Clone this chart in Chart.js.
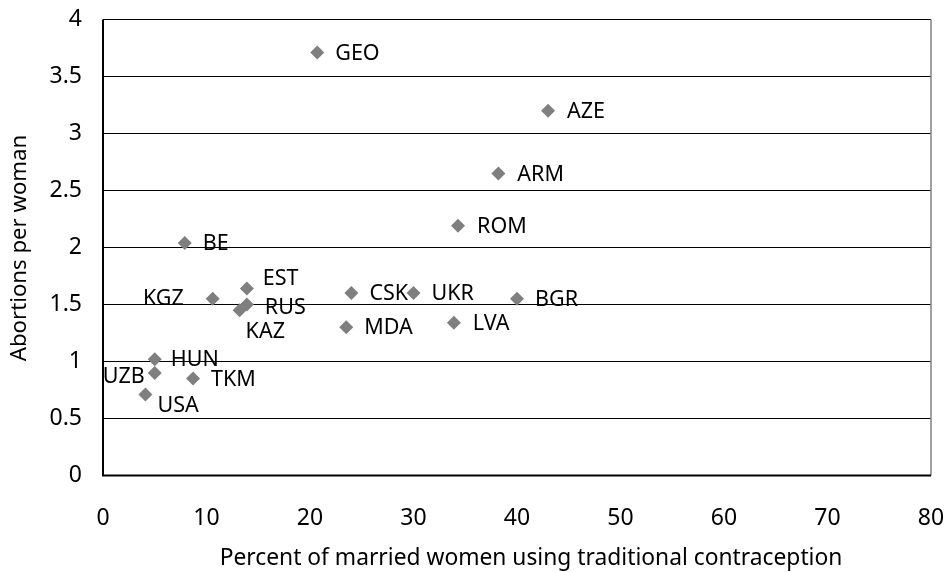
<!DOCTYPE html>
<html><head><meta charset="utf-8">
<script src="https://cdn.jsdelivr.net/npm/chart.js@4.4.0/dist/chart.umd.min.js"></script>
<style>html,body{margin:0;padding:0;background:#fff;}canvas{display:block;}</style>
</head><body>
<canvas id="c" width="948" height="572"></canvas>
<script>
const countries = ["GEO","AZE","ARM","ROM","BE","EST","KGZ","RUS","KAZ","HUN","UZB","TKM","USA","CSK","UKR","BGR","MDA","LVA"];
const traditionalPct = [20.7,43.0,38.2,34.3,7.9,13.9,10.6,13.9,13.2,5.0,5.0,8.7,4.1,24.0,30.0,40.0,23.5,33.9];
const abortionsPerWoman = [3.71,3.20,2.65,2.19,2.04,1.64,1.55,1.50,1.45,1.02,0.90,0.85,0.71,1.60,1.60,1.55,1.30,1.34];
const xTicks = [0,10,20,30,40,50,60,70,80];
const yTicks = [0,0.5,1,1.5,2,2.5,3,3.5,4];

// label placement (pixel offsets from the marker), kept apart from the data
const labelPlacement = {
  GEO:[18,1,'left'], AZE:[19,1,'left'], ARM:[19,1,'left'], ROM:[19,1,'left'], BE:[18,1,'left'],
  EST:[16,-10,'left'], KGZ:[-29,0,'right'], RUS:[18,3,'left'], KAZ:[6,22,'left'],
  HUN:[16,1,'left'], UZB:[-10,4,'right'], TKM:[18,1,'left'], USA:[12,11,'left'],
  CSK:[18,1,'left'], UKR:[18,1,'left'], BGR:[18,1,'left'], MDA:[18,1,'left'], LVA:[19,1,'left']
};

const FONT = "'Noto Sans', 'Open Sans', sans-serif";

const labelsPlugin = {
  id: 'pointLabels',
  afterDatasetsDraw(chart) {
    const ctx = chart.ctx;
    const meta = chart.getDatasetMeta(0);
    ctx.save();
    ctx.font = "21.5px " + FONT;
    ctx.fillStyle = '#000';
    ctx.textBaseline = 'middle';
    meta.data.forEach((pt, i) => {
      const p = labelPlacement[countries[i]] || [16,0,'left'];
      ctx.textAlign = p[2];
      ctx.fillText(countries[i], pt.x + p[0], pt.y + p[1]);
    });
    ctx.restore();
  }
};

const framePlugin = {
  id: 'frame',
  beforeDatasetsDraw(chart) {
    const {ctx, chartArea:a} = chart;
    ctx.save();
    ctx.strokeStyle = '#808080';
    ctx.lineWidth = 1.5;
    ctx.beginPath();
    ctx.moveTo(a.right, a.top);
    ctx.lineTo(a.right, a.bottom);
    ctx.stroke();
    ctx.strokeStyle = '#000';
    ctx.lineWidth = 2;
    ctx.beginPath();
    ctx.moveTo(a.left, a.top);
    ctx.lineTo(a.left, a.bottom);
    ctx.lineTo(a.right, a.bottom);
    ctx.stroke();
    ctx.restore();
  },
  afterDraw(chart) {
    const {ctx} = chart;
    ctx.save();
    ctx.fillStyle = '#000';
    ctx.font = "22.8px " + FONT;
    ctx.textAlign = 'center';
    ctx.textBaseline = 'middle';
    ctx.fillText('Percent of married women using traditional contraception', 531, 559);
    ctx.font = "22.2px " + FONT;
    ctx.translate(20, 248);
    ctx.rotate(-Math.PI/2);
    ctx.fillText('Abortions per woman', 0, 0);
    ctx.restore();
  }
};

new Chart(document.getElementById('c'), {
  type: 'scatter',
  data: {
    datasets: [{
      data: traditionalPct.map((x, i) => ({x: x, y: abortionsPerWoman[i]})),
      pointStyle: 'rectRot',
      pointRadius: 7,
      pointHoverRadius: 7,
      backgroundColor: '#7f7f7f',
      borderColor: '#7f7f7f',
      borderWidth: 0
    }]
  },
  options: {
    responsive: false,
    animation: false,
    events: [],
    layout: { padding: { top: 19.5, right: 17, left: 0, bottom: 0 } },
    plugins: { legend: { display: false }, tooltip: { enabled: false } },
    scales: {
      x: {
        type: 'linear', min: 0, max: 80,
        afterBuildTicks(s) { s.ticks = xTicks.map(v => ({value: v})); },
        afterFit(s) { s.height = 96.5; s.paddingLeft = 0; s.paddingRight = 0; },
        grid: { display: false, drawTicks: false },
        border: { display: false },
        ticks: { padding: 29, color: '#000', font: { size: 23, family: FONT }, maxRotation: 0,
                 callback: v => String(v) }
      },
      y: {
        type: 'linear', min: 0, max: 4,
        afterBuildTicks(s) { s.ticks = yTicks.map(v => ({value: v})); },
        afterFit(s) { s.width = 103; s.paddingTop = 0; s.paddingBottom = 0; },
        grid: { color: '#000', lineWidth: 1, drawTicks: false },
        border: { display: false },
        ticks: { padding: 21, color: '#000', font: { size: 23, family: FONT },
                 callback: v => String(v) }
      }
    }
  },
  plugins: [framePlugin, labelsPlugin]
});
</script>
</body></html>
